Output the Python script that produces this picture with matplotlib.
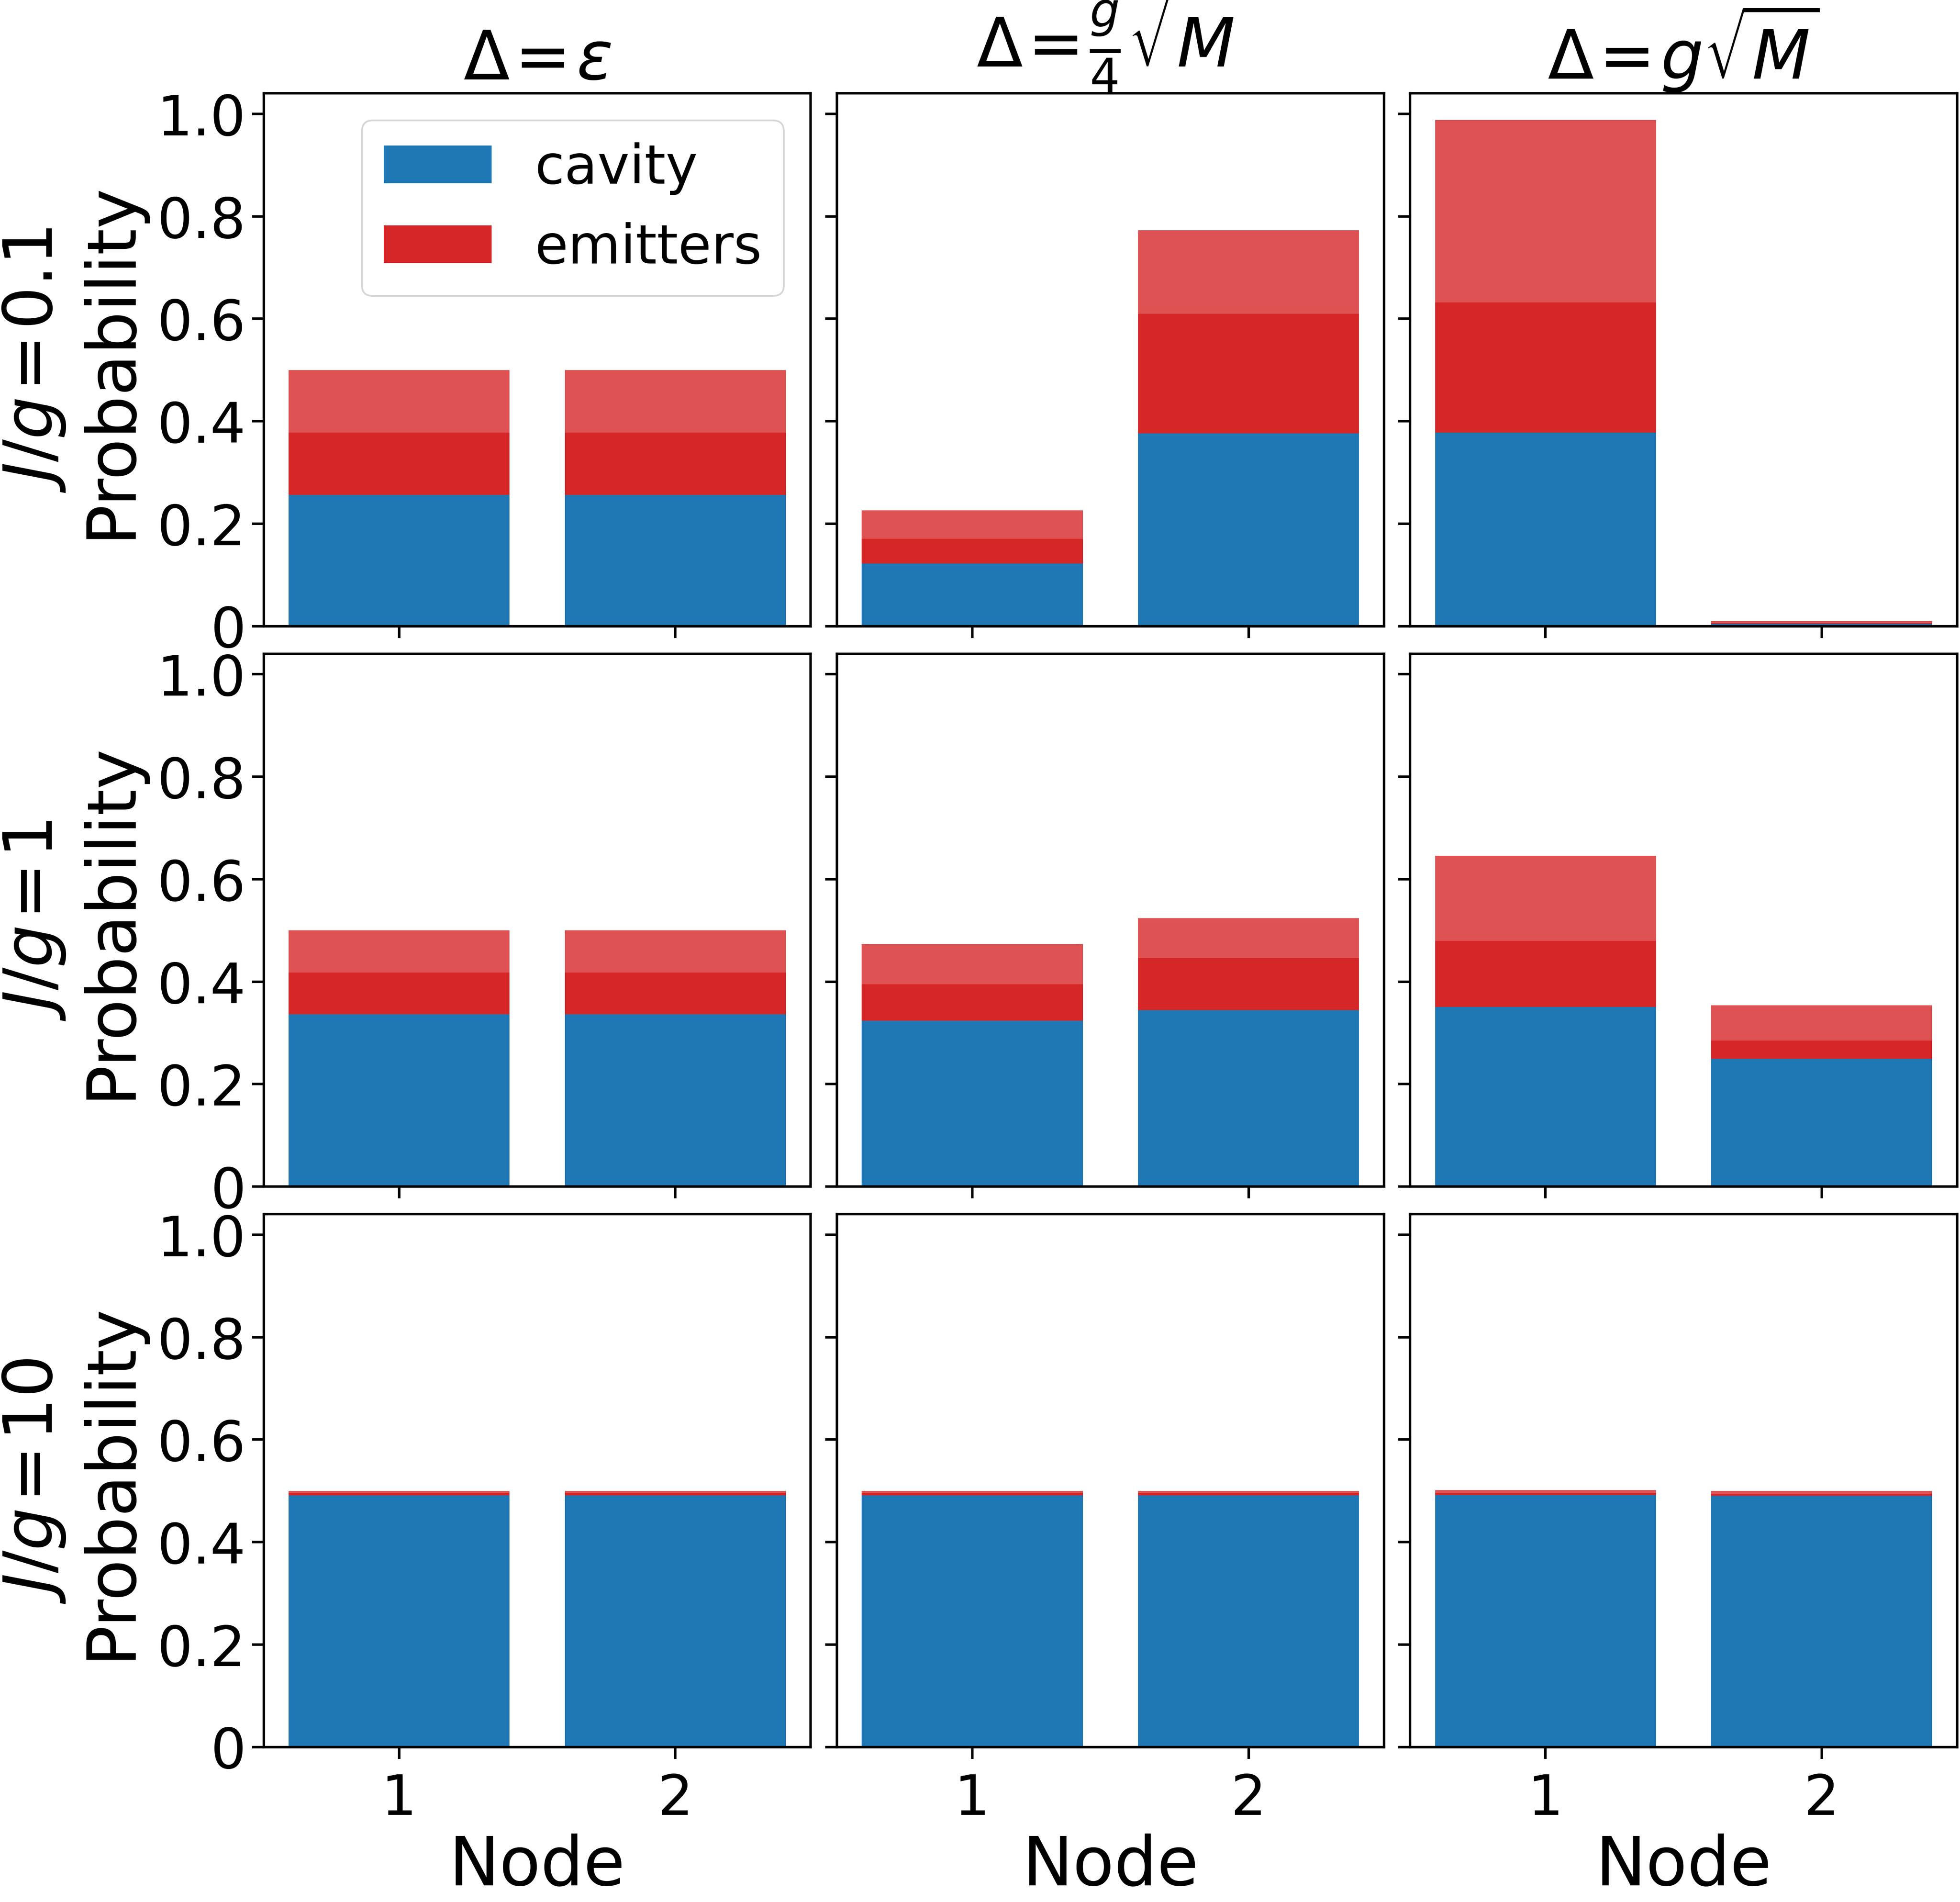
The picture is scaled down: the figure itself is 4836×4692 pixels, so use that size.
import matplotlib
matplotlib.use('Agg')
import matplotlib.pyplot as plt
import numpy as np

# valores: [linha][coluna][nó]
nodes = [1, 2]
eq = r'\hspace{-0.12}=\hspace{-0.12}'
titulos = [r'$\Delta' + eq + r'\varepsilon$',
           r'$\Delta' + eq + r'\frac{g}{4}\sqrt{M}$',
           r'$\Delta' + eq + r'g\sqrt{M}$']
linhas = [r'$J/g' + eq + r'0.1$', r'$J/g' + eq + r'1$', r'$J/g' + eq + r'10$']

cavity = [
    [[0.256, 0.256], [0.122, 0.376], [0.378, 0.0045]],
    [[0.336, 0.336], [0.324, 0.344], [0.351, 0.249]],
    [[0.491, 0.491], [0.491, 0.491], [0.4915, 0.4905]],
]
emitter1 = [
    [[0.122, 0.122], [0.049, 0.234], [0.254, 0.0018]],
    [[0.082, 0.082], [0.071, 0.102], [0.129, 0.036]],
    [[0.0045, 0.0045], [0.0045, 0.0045], [0.0045, 0.004]],
]
emitter2 = [
    [[0.122, 0.122], [0.055, 0.163], [0.356, 0.004]],
    [[0.082, 0.082], [0.078, 0.078], [0.166, 0.069]],
    [[0.0045, 0.0045], [0.0045, 0.0045], [0.0056, 0.0055]],
]

yticks = [0, 0.2, 0.4, 0.6, 0.8, 1.0]
ytick_labels = ['0', '0.2', '0.4', '0.6', '0.8', '1.0']

fig, axs = plt.subplots(3, 3, figsize=(16.12, 15.643), dpi=300, sharex=True, sharey=True)
fig.subplots_adjust(left=0.1346, right=0.9985, top=0.9507, bottom=0.0815, wspace=0.048, hspace=0.052)

for i in range(3):
    for j in range(3):
        ax = axs[i, j]
        cav = np.array(cavity[i][j])
        e1 = np.array(emitter1[i][j])
        e2 = np.array(emitter2[i][j])
        ax.bar(nodes, cav, width=0.8, color='tab:blue', label='cavity')
        ax.bar(nodes, e1, width=0.8, bottom=cav, color='tab:red', label='emitters')
        ax.bar(nodes, e2, width=0.8, bottom=cav + e1, color='tab:red', alpha=0.8)
        ax.set_ylim(0, 1.04)
        ax.set_yticks(yticks)
        ax.set_xticks(nodes)
        ax.tick_params(labelsize=33, length=7, width=1.5)
        ax.tick_params(axis='x', pad=8)
        for s in ax.spines.values():
            s.set_linewidth(1.5)
        if j == 0:
            ax.set_yticklabels(ytick_labels)
            ax.set_ylabel(linhas[i] + '\nProbability', fontsize=40, labelpad=8)
        if i == 0:
            ax.set_title(titulos[j], fontsize=40, pad=5)
        if i == 2:
            ax.set_xlabel('Node', fontsize=40, labelpad=4)

axs[0, 0].legend(loc='upper right', fontsize=32)

plt.savefig('out.png')
